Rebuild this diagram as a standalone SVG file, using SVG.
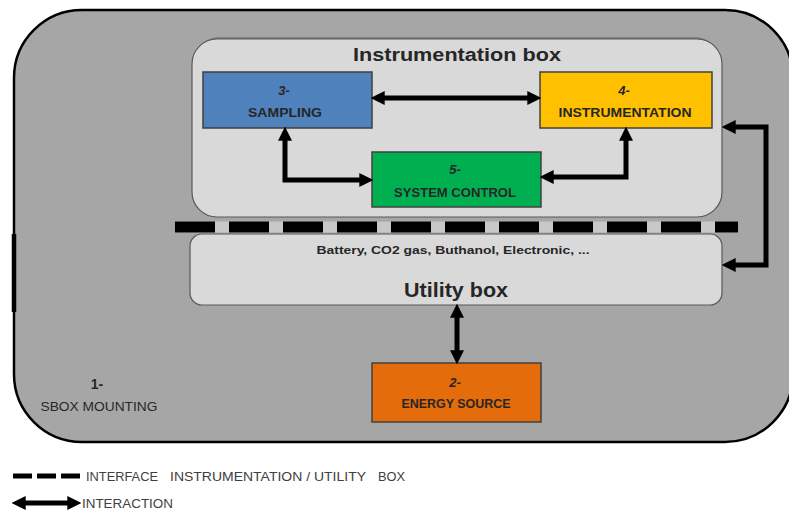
<svg xmlns="http://www.w3.org/2000/svg" width="789" height="512" viewBox="0 0 789 512">
<defs>
<style>
.t{font-family:"Liberation Sans",Arial,sans-serif;fill:#262626;text-anchor:middle}
.b{font-weight:bold}
.i{font-style:italic}
.box{stroke:#404040;stroke-width:1.5}
.arr{fill:none;stroke:#000;stroke-width:5;stroke-linejoin:miter;marker-start:url(#ah);marker-end:url(#ah)}
.lg{font-family:"Liberation Sans",Arial,sans-serif;fill:#404040;font-size:13px}
</style>
<marker id="ah" markerUnits="userSpaceOnUse" markerWidth="14" markerHeight="14" refX="4" refY="6" orient="auto-start-reverse" viewBox="0 0 12 12">
<path d="M0,0 L12,6 L0,12 z" fill="#000"/>
</marker>
</defs>
<rect width="789" height="512" fill="#fff"/>

<g id="sbox-mounting">
<rect x="14" y="10" width="779" height="432" rx="68" ry="68" fill="#a6a6a6" stroke="#000" stroke-width="2.5"/>
<line x1="14" y1="234" x2="14" y2="312" stroke="#000" stroke-width="4.5"/>
<text class="t b" x="97" y="389" font-size="14">1-</text>
<text class="t" x="99" y="411" font-size="12" textLength="117" lengthAdjust="spacingAndGlyphs">SBOX MOUNTING</text>
</g>

<g id="instrumentation-box">
<rect x="194" y="37" width="526" height="178" rx="25" fill="#7f7f7f"/>
<rect x="192" y="39" width="530" height="178" rx="25" fill="#d9d9d9" stroke="#595959" stroke-width="1.2"/>
<text class="t b" x="457" y="61" font-size="18" textLength="208" lengthAdjust="spacingAndGlyphs">Instrumentation box</text>
</g>

<g id="utility-box">
<rect x="190" y="234" width="532" height="71" rx="12" fill="#d9d9d9" stroke="#595959" stroke-width="1.2"/>
<text class="t b" x="453" y="254" font-size="11" fill="#333" textLength="273" lengthAdjust="spacingAndGlyphs">Battery, CO2 gas, Buthanol, Electronic, ...</text>
<text class="t b" x="456" y="297" font-size="20" textLength="104" lengthAdjust="spacingAndGlyphs">Utility box</text>
</g>

<g id="interface-bar">
<line x1="175" y1="227" x2="738" y2="227" stroke="#c8c8c8" stroke-width="11"/>
<line x1="175" y1="227" x2="738" y2="227" stroke="#000" stroke-width="11" stroke-dasharray="40 14"/>
</g>

<g id="sampling">
<rect class="box" x="203" y="72" width="169" height="56" fill="#4f81bd"/>
<text class="t b i" x="284" y="95" font-size="13">3-</text>
<text class="t b" x="285" y="117" font-size="13" textLength="74" lengthAdjust="spacingAndGlyphs">SAMPLING</text>
</g>

<g id="instrumentation">
<rect class="box" x="540" y="72" width="172" height="56" fill="#ffc000"/>
<text class="t b i" x="624" y="95" font-size="13">4-</text>
<text class="t b" x="625" y="117" font-size="13" textLength="133" lengthAdjust="spacingAndGlyphs">INSTRUMENTATION</text>
</g>

<g id="system-control">
<rect class="box" x="372" y="152" width="169" height="55" fill="#00b050"/>
<text class="t b i" x="455" y="174" font-size="13">5-</text>
<text class="t b" x="455" y="197" font-size="13" textLength="122" lengthAdjust="spacingAndGlyphs">SYSTEM CONTROL</text>
</g>

<g id="energy-source">
<rect class="box" x="372" y="363" width="169" height="59" fill="#e46c0a"/>
<text class="t b i" x="455" y="387" font-size="13">2-</text>
<text class="t b" x="456" y="408" font-size="13" textLength="109" lengthAdjust="spacingAndGlyphs">ENERGY SOURCE</text>
</g>

<g id="connectors">
<path class="arr" d="M380,98 H532"/>
<path class="arr" d="M285,136 V180 H364"/>
<path class="arr" d="M626,136 V177 H549"/>
<path class="arr" d="M731,127 H766 V265 H731"/>
<path class="arr" d="M457,313 V355"/>
</g>

<g id="legend">
<line x1="13" y1="476" x2="80" y2="476" stroke="#000" stroke-width="5" stroke-dasharray="19 5"/>
<text class="lg"><tspan x="86" y="481" textLength="72" lengthAdjust="spacingAndGlyphs">INTERFACE</tspan><tspan x="170" y="481" textLength="196" lengthAdjust="spacingAndGlyphs">INSTRUMENTATION / UTILITY</tspan><tspan x="378" y="481" textLength="27" lengthAdjust="spacingAndGlyphs">BOX</tspan></text>
<path class="arr" d="M21,503 H72" stroke-width="4"/>
<text class="lg" x="82" y="508" textLength="91" lengthAdjust="spacingAndGlyphs">INTERACTION</text>
</g>
</svg>
